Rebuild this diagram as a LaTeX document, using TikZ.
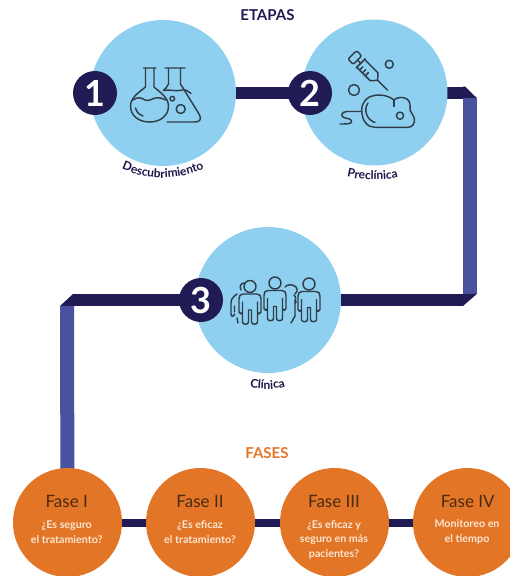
\documentclass[tikz,border=0pt]{standalone}
\usepackage{fontspec}
\setmainfont{Lato}
\usetikzlibrary{backgrounds,decorations.text}
\definecolor{skyc}{HTML}{8FD0F1}
\definecolor{navyc}{HTML}{201A55}
\definecolor{bluec}{HTML}{4A529F}
\definecolor{orangec}{HTML}{E37526}
\definecolor{iconc}{HTML}{2F3D48}
\definecolor{fasec}{HTML}{4A2A12}
\definecolor{subc}{HTML}{FBE6D4}
\newcommand{\curvedlabel}[2]{\path[postaction={decorate},decoration={text along path,text align=center,text={|\fontsize{12}{12}\selectfont\bfseries\color{navyc!85!black}|#2}}] #1;}
\tikzset{
  stagec/.style={circle,fill=skyc,minimum size=146pt,inner sep=0pt},
  badgec/.style={circle,fill=navyc,minimum size=44pt,inner sep=0pt,text=white,font=\fontsize{36}{36}\selectfont\bfseries},
  phasec/.style={circle,fill=orangec,minimum size=109pt,inner sep=0pt},
  navybar/.style={draw=navyc,line width=12pt},
  bluebar/.style={draw=bluec,line width=14pt},
  thinbar/.style={draw=navyc,line width=8pt},
  icon/.style={draw=iconc,line width=1.45pt,line cap=round,line join=round},
  heading/.style={font=\fontsize{15}{15}\selectfont\bfseries},
  fasetitle/.style={text=fasec,font=\fontsize{17}{17}\selectfont},
  fasesub/.style={text=subc,align=center,font=\fontsize{10.7}{14.5}\selectfont\bfseries},
  person/.pic={
    \draw[icon] (0,-6.5) circle (6);
    \draw[icon] (-7,1) -- (7,1) .. controls (10,1) and (11,3) .. (11,6) -- (11,19)
      .. controls (11,21.5) and (7.5,21.5) .. (7.5,19) -- (7.5,9)
      (7.5,9) -- (7.5,29) .. controls (7.5,32) and (1.5,32) .. (1.5,29) -- (1.5,17) -- (-1.5,17) -- (-1.5,29)
      .. controls (-1.5,32) and (-7.5,32) .. (-7.5,29) -- (-7.5,9) -- (-7.5,19)
      .. controls (-7.5,21.5) and (-11,21.5) .. (-11,19) -- (-11,6) .. controls (-11,3) and (-10,1) .. (-7,1);
  }
}
\begin{document}
\begin{tikzpicture}[x=1pt,y=-1pt]
\useasboundingbox (0,0) rectangle (510,576);
\clip (0,0) rectangle (510,576);
% stages
\node[stagec] (c1) at (163,93) {};
\node[stagec] (c2) at (374.5,92.5) {};
\node[stagec] (c3) at (268,300) {};
\node[badgec] (b1) at (95,93) {1};
\node[badgec] (b2) at (310,93) {2};
\node[badgec] (b3) at (201,300) {3};
% phases
\node[phasec] (f1) at (67.5,522.5) {};
\node[phasec] (f2) at (200.5,522.5) {};
\node[phasec] (f3) at (334.5,522.5) {};
\node[phasec] (f4) at (467.5,522.5) {};
% fold points
\coordinate (k1) at (463,92.5);
\coordinate (k2) at (470,98);
\coordinate (k3) at (470,294);
\coordinate (k4) at (463,300);
\coordinate (k5) at (73,300);
\coordinate (k6) at (67,306);
\begin{scope}[on background layer]
  \draw[navybar] (c1.center) -- (b2.center);
  \draw[navybar] (c2.center) -- (k1);
  \fill[navyc] (463,86.5) -- (465,86.5) -- (477,98.2) -- (463,98.2) -- cycle;
  \draw[bluebar] (k2) -- (k3);
  \fill[navyc] (477,293.8) -- (463,306) -- (463,293.8) -- cycle;
  \draw[navybar] (k4) -- (c3.center);
  \draw[navybar] (b3.center) -- (k5);
  \fill[navyc] (60,306) -- (73,294) -- (73,306) -- cycle;
  \draw[bluebar] (k6) -- (f1.center);
  \draw[thinbar] (f1) -- (f2);
  \draw[thinbar] (f2) -- (f3);
  \draw[thinbar] (f3) -- (f4);
\end{scope}
% headings
\node[heading,text=navyc] (etapas) at (267.5,15) {ETAPAS};
\node[heading,text=orangec] (fases) at (267,453.5) {FASES};
% curved labels
\curvedlabel{(116,166) .. controls (145,182) and (180,182) .. (210,166)}{Descubrimiento}
\curvedlabel{(344,176) .. controls (362,181) and (385,181) .. (401,177)}{Preclínica}
\curvedlabel{(247,387) .. controls (260,390) and (275,390) .. (288,386)}{Clínica}
% phase text
\node[fasetitle] (t1) at (66.7,501.5) {Fase I};
\node[fasetitle] (t2) at (200,501.5) {Fase II};
\node[fasetitle] (t3) at (334,501.5) {Fase III};
\node[fasetitle] (t4) at (467.7,501.5) {Fase IV};
\node[fasesub] (s1) at (66.7,532) {¿Es seguro\\el tratamiento?};
\node[fasesub] (s2) at (200,532) {¿Es eficaz\\el tratamiento?};
\node[fasesub] (s3) at (334,539.5) {¿Es eficaz y\\seguro en más\\pacientes?};
\node[fasesub] (s4) at (467,532) {Monitoreo en\\el tiempo};
% flasks
\draw[icon] (143.5,68) -- (156,68) (145.5,68) -- (145.5,87) .. controls (138,93) and (130.5,98) .. (130.5,106)
  .. controls (130.5,116) and (139,122) .. (149.5,122) .. controls (160,122) and (168.5,116) .. (168.5,106)
  .. controls (168.5,98) and (161,93) .. (154,87) -- (154,68);
\draw[icon] (133,100) .. controls (137,97) and (141,97) .. (145,100) .. controls (149,102) and (152,98) .. (156,98) .. controls (160,97) and (163,99) .. (166,100);
\draw[icon] (135.5,108) .. controls (136.5,112) and (139,114.5) .. (143,116);
\draw[icon] (165,68) -- (185,68) (168.5,68) -- (168.5,84) .. controls (167.5,87) and (165,89) .. (163.5,90.5)
  (180.5,68) -- (180.5,84) -- (199,114) .. controls (202,119) and (200,122) .. (195,122) -- (167,122);
\draw[icon] (163.5,90.5) .. controls (170,89) and (176,92) .. (182,90) .. controls (186,89) and (189,92) .. (191,93.5);
\draw[icon] (172.3,98.7) circle (2.3);
\draw[icon] (180.7,109) circle (4.5);
% syringe
\begin{scope}[shift={(355,57.7)},rotate=-45]
  \draw[icon,rounded corners=2pt] (-4,-6) rectangle (3.5,6);
  \draw[icon] (3.5,0) -- (8,0);
  \draw[icon] (8,-6.5) -- (8,6.5);
  \draw[icon] (8,-5.5) -- (27,-5.5) -- (32,0) -- (27,5.5) -- (8,5.5);
  \draw[icon] (32,0) -- (46,0);
  \draw[icon] (12,5.5) -- (12,1) (16,5.5) -- (16,1) (20,5.5) -- (20,1);
\end{scope}
\draw[icon] (389.3,64.3) circle (4);
\draw[icon] (354,90) circle (5.5);
% mouse
\draw[icon] (361.7,110) .. controls (362,102) and (367,96.5) .. (374,95.5) .. controls (382,94) and (389,96) .. (394,100)
  .. controls (397,97) and (403,96.5) .. (407,99) .. controls (411,102) and (410,107) .. (410,110)
  .. controls (412,114) and (414.5,117) .. (414.5,120) .. controls (414.5,124) and (412,127.3) .. (408,127.3)
  -- (375,127.3) .. controls (368,127.3) and (362,122) .. (361.7,110);
\draw[icon] (394,100) -- (394,106.5);
\draw[icon] (368,103) .. controls (363,110) and (367,120) .. (375,122.5);
\draw[icon] (400,115.7) circle (3.6);
\draw[icon] (360.7,111.5) -- (347,111.5) .. controls (341,111.5) and (340,117) .. (345,118)
  .. controls (349,118.5) and (352,119.5) .. (351.5,122) .. controls (351,124) and (346,124) .. (340,124);
% people
\draw[icon] (241,290) .. controls (239,286) and (241,283) .. (244,283);
\draw[icon] (237,294) .. controls (233,297) and (231,299) .. (231,303) -- (231,314) .. controls (231,317) and (234,317) .. (234.5,314);
\draw[icon] (234.5,306) -- (234.5,312) (237,318) -- (238,323);
\draw[icon] (285,287) .. controls (287,284) and (293,284) .. (296,287) .. controls (298,290) and (297,293) .. (295,294);
\draw[icon] (294,295) .. controls (297,298) and (295,299) .. (295,303) -- (295,316);
\draw[icon] (295,300) .. controls (297,301) and (296,303) .. (295,303) (295,316) -- (291,323);
\pic at (250,293) {person};
\pic at (275,289.5) {person};
\pic at (309,290.5) {person};
\end{tikzpicture}
\end{document}
